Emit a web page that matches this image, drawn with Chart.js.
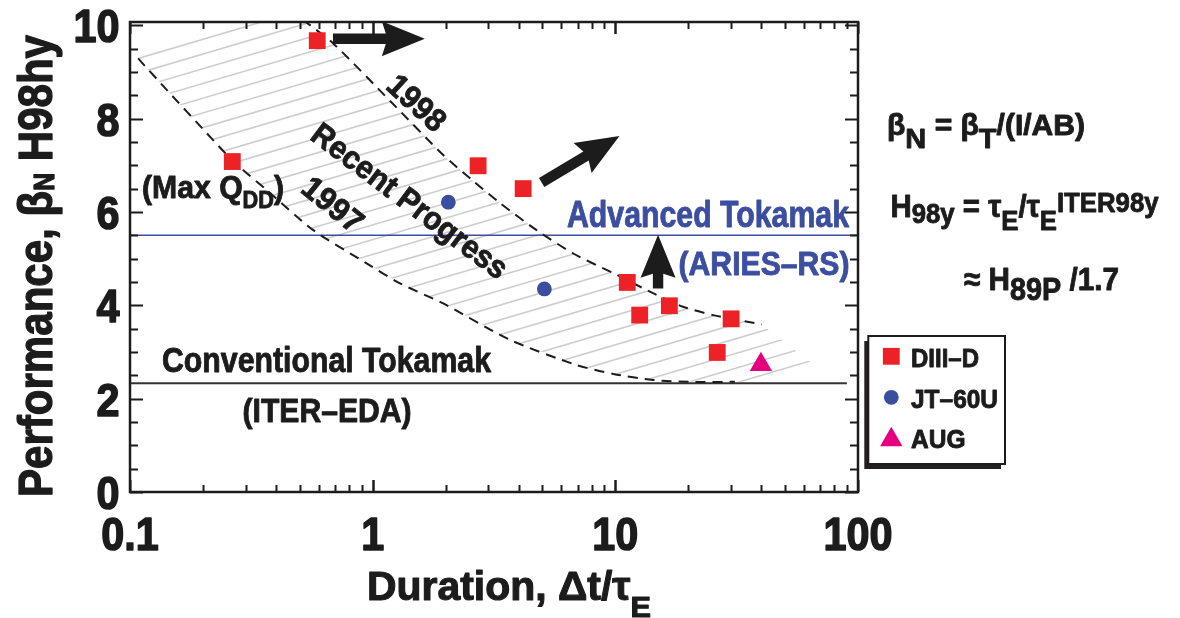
<!DOCTYPE html>
<html>
<head>
<meta charset="utf-8">
<title>Performance vs duration</title>
<script src="https://cdn.jsdelivr.net/npm/chart.js@4.4.1/dist/chart.umd.min.js"></script>
<style>
  html, body { margin: 0; padding: 0; background: #ffffff; }
  #wrap { position: relative; width: 1180px; height: 618px; }
</style>
</head>
<body>
<div id="wrap"><canvas id="chart" width="1180" height="618"></canvas></div>
<script>
// ---- measurements: duration (Δt/τE) and performance (βN H98y) ----
const diiidDuration = [0.591, 0.264, 2.72, 4.17, 11.2, 12.6, 16.7, 30.0, 26.3];
const diiidPerf     = [9.67, 7.08, 6.99, 6.50, 4.49, 3.79, 3.99, 3.71, 2.99];
const jt60uDuration = [2.05, 5.10];
const jt60uPerf     = [6.21, 4.35];
const augDuration   = [39.8];
const augPerf       = [2.73];

// ---- performance frontiers ----
const front1998Duration = [0.515, 0.688, 1.2, 1.954, 2.56, 3.35, 4.74, 6.71, 9.8, 14.3, 19.0, 25.3, 40.1];
const front1998Perf     = [10.12, 9.61, 8.34, 7.22, 6.69, 6.19, 5.61, 5.11, 4.69, 4.26, 3.97, 3.79, 3.59];
const front1997Duration = [0.108, 0.142, 0.207, 0.267, 0.366, 0.569, 0.944, 1.296, 1.954, 3.68, 6.93, 9.8, 14.3, 20.9, 31.1];
const front1997Perf     = [9.29, 8.61, 7.69, 7.08, 6.47, 5.61, 4.90, 4.47, 4.04, 3.26, 2.72, 2.53, 2.40, 2.36, 2.36];

// corners closing the "recent progress" band
const bandTopDuration = [0.105, 0.30];
const bandTopPerf     = [9.45, 10.2];
const bandEndDuration = [67.3, 36.2];
const bandEndPerf     = [2.69, 2.36];

// ---- reference operating levels ----
const advancedLevel = 5.5;      // Advanced Tokamak (ARIES-RS)
const conventionalLevel = 2.33; // Conventional Tokamak (ITER-EDA)
const levelDuration = [0.1, 100];
const conventionalDuration = [0.1, 90];

// ---- progress arrows (tail -> head) ----
const arrowFromDuration = [0.686, 4.97, 15.0];
const arrowFromPerf     = [9.71, 6.63, 4.36];
const arrowToDuration   = [1.64, 10.4, 15.0];
const arrowToPerf       = [9.71, 7.63, 5.51];

// ---- axis ticks ----
const xTickValues = [0.1, 1, 10, 100];
const xTickLabels = ['0.1', '1', '10', '100'];
const yTickValues = [0, 2, 4, 6, 8, 10];
const yTickLabels = ['0', '2', '4', '6', '8', '10'];

// ---- look ----
const FONT = '"Liberation Sans", Arial, Helvetica, sans-serif';
const INK = '#1c1c1c';
const RED = '#ec2227';
const BLUE = '#3a4e9f';
const MAGENTA = '#e4007f';
const LEVEL_BLUE = '#3b4ea0';

const pts = (xs, ys) => xs.map((v, i) => ({ x: v, y: ys[i] }));

// draw a run of text pieces (sub/superscripts) on one baseline
function drawRuns(ctx, runs, x, y, o) {
  o = o || {};
  ctx.save();
  let total = 0;
  const w = [];
  for (const r of runs) {
    ctx.font = 'bold ' + r.size + 'px ' + FONT;
    const m = ctx.measureText(r.t).width;
    w.push(m);
    total += m;
  }
  const sx = o.width ? o.width / total : (o.sx || 1);
  ctx.translate(x, y);
  if (o.angle) ctx.rotate(o.angle);
  ctx.scale(sx, 1);
  let cx = o.align === 'center' ? -total / 2 : (o.align === 'right' ? -total : 0);
  const dy0 = o.vcenter ? runs[0].size * 0.36 : 0;
  const col = o.color || INK;
  ctx.fillStyle = col;
  ctx.strokeStyle = col;
  ctx.lineJoin = 'round';
  ctx.lineWidth = o.heavy === undefined ? 0.9 : o.heavy;
  ctx.textAlign = 'left';
  ctx.textBaseline = 'alphabetic';
  runs.forEach((r, i) => {
    ctx.font = 'bold ' + r.size + 'px ' + FONT;
    ctx.fillText(r.t, cx, dy0 + (r.dy || 0));
    if (ctx.lineWidth > 0) ctx.strokeText(r.t, cx, dy0 + (r.dy || 0));
    cx += w[i];
  });
  ctx.restore();
}

function drawArrow(ctx, x0, y0, x1, y1) {
  const ang = Math.atan2(y1 - y0, x1 - x0);
  const len = Math.hypot(x1 - x0, y1 - y0);
  const hl = 43, hw = 17.5, sw = 5.2;
  ctx.save();
  ctx.translate(x0, y0);
  ctx.rotate(ang);
  ctx.fillStyle = INK;
  ctx.beginPath();
  ctx.moveTo(0, -sw);
  ctx.lineTo(len - hl + 4, -sw);
  ctx.lineTo(len - hl, -hw);
  ctx.lineTo(len, 0);
  ctx.lineTo(len - hl, hw);
  ctx.lineTo(len - hl + 4, sw);
  ctx.lineTo(0, sw);
  ctx.closePath();
  ctx.fill();
  ctx.restore();
}

// diagonal hatching of the band between the two frontiers
const hatchPlugin = {
  id: 'hatchBand',
  beforeDatasetsDraw(chart) {
    const { ctx, chartArea: a, scales: { x, y } } = chart;
    const poly = []
      .concat(pts(bandTopDuration, bandTopPerf))
      .concat(pts(front1998Duration, front1998Perf))
      .concat(pts(bandEndDuration, bandEndPerf))
      .concat(pts(front1997Duration, front1997Perf).reverse());
    ctx.save();
    ctx.beginPath();
    ctx.rect(a.left, a.top, a.right - a.left, a.bottom - a.top);
    ctx.clip();
    ctx.beginPath();
    poly.forEach((p, i) => {
      const px = x.getPixelForValue(p.x), py = y.getPixelForValue(p.y);
      if (i) ctx.lineTo(px, py); else ctx.moveTo(px, py);
    });
    ctx.closePath();
    ctx.clip();
    const slope = 0.295, step = 14.73;
    const c0 = y.getPixelForValue(front1997Perf[0]) + slope * x.getPixelForValue(front1997Duration[0]);
    ctx.strokeStyle = '#cdcdcd';
    ctx.lineWidth = 1.6;
    for (let k = -60; k <= 80; k++) {
      const c = c0 + k * step;
      ctx.beginPath();
      ctx.moveTo(0, c);
      ctx.lineTo(chart.width, c - slope * chart.width);
      ctx.stroke();
    }
    ctx.restore();
  }
};

// frame, inward ticks, labels, annotations and key
const decorPlugin = {
  id: 'decor',
  afterDraw(chart) {
    const { ctx, chartArea: a, scales: { x, y } } = chart;

    // arrows
    for (let i = 0; i < arrowFromDuration.length; i++) {
      drawArrow(ctx,
        x.getPixelForValue(arrowFromDuration[i]), y.getPixelForValue(arrowFromPerf[i]),
        x.getPixelForValue(arrowToDuration[i]), y.getPixelForValue(arrowToPerf[i]));
    }

    // frame
    ctx.save();
    ctx.strokeStyle = INK;
    ctx.lineWidth = 2.5;
    ctx.strokeRect(a.left, a.top, a.right - a.left, a.bottom - a.top);

    // y ticks every 0.5, labelled every 2
    ctx.lineWidth = 2;
    for (let v = 0; v <= 10.001; v += 0.5) {
      const py = Math.round(y.getPixelForValue(v)) + 0.5;
      const major = Math.abs(v / 2 - Math.round(v / 2)) < 1e-6;
      const L = major ? 13 : 8;
      ctx.beginPath();
      ctx.moveTo(a.left, py); ctx.lineTo(a.left + L, py);
      ctx.moveTo(a.right, py); ctx.lineTo(a.right - L, py);
      ctx.stroke();
    }
    // x ticks: decades and 2..9
    for (let d = 0.1; d < 100; d *= 10) {
      for (let k = 1; k <= 10; k++) {
        const v = d * k;
        const px = Math.round(x.getPixelForValue(v)) + 0.5;
        const L = (k === 1 || k === 10) ? 12 : 7;
        ctx.beginPath();
        ctx.moveTo(px, a.bottom); ctx.lineTo(px, a.bottom - L);
        ctx.moveTo(px, a.top); ctx.lineTo(px, a.top + L);
        ctx.stroke();
      }
    }
    ctx.restore();

    // tick labels
    yTickValues.forEach((v, i) => {
      drawRuns(ctx, [{ t: yTickLabels[i], size: 47 }], a.left - 10.5, y.getPixelForValue(v),
        { align: 'right', sx: 0.88, vcenter: true, heavy: 1.6 });
    });
    xTickValues.forEach((v, i) => {
      drawRuns(ctx, [{ t: xTickLabels[i], size: 47 }], x.getPixelForValue(v), a.bottom + 57.5,
        { align: 'center', sx: 0.88, heavy: 1.6 });
    });

    // axis titles
    ctx.save();
    ctx.translate(52, 497);
    ctx.rotate(-Math.PI / 2);
    drawRuns(ctx, [
      { t: 'Performance, β', size: 49 },
      { t: 'N', size: 29, dy: 1.5 },
      { t: ' H98hy', size: 49 }
    ], 0, 0, { width: 462, heavy: 1.3 });
    ctx.restore();
    drawRuns(ctx, [
      { t: 'Duration, Δt/τ', size: 40 },
      { t: 'E', size: 30, dy: 17 }
    ], 367, 600, { width: 284, heavy: 1.1 });

    // level labels
    drawRuns(ctx, [{ t: 'Advanced Tokamak', size: 37 }], 567, 226.7, { width: 282, color: LEVEL_BLUE });
    drawRuns(ctx, [{ t: '(ARIES–RS)', size: 34 }], 678.5, 274.5, { width: 171, color: LEVEL_BLUE });
    drawRuns(ctx, [{ t: 'Conventional Tokamak', size: 35 }], 162, 371.7, { width: 329 });
    drawRuns(ctx, [{ t: '(ITER–EDA)', size: 33 }], 242.5, 421.7, { width: 169 });

    // band annotations
    drawRuns(ctx, [
      { t: '(Max Q', size: 32 },
      { t: 'DD', size: 23, dy: 10 },
      { t: ')', size: 32 }
    ], 142, 198, { width: 142 });
    drawRuns(ctx, [{ t: '1998', size: 32 }], 417.3, 102.3, { align: 'center', angle: 0.74, sx: 0.95, vcenter: true });
    drawRuns(ctx, [{ t: '1997', size: 32 }], 333.3, 204, { align: 'center', angle: 0.68, sx: 0.97, vcenter: true });
    drawRuns(ctx, [{ t: 'Recent Progress', size: 32 }], 410.3, 200.3, { align: 'center', angle: 0.643, sx: 0.93, vcenter: true });

    // definitions
    drawRuns(ctx, [
      { t: 'β', size: 29 }, { t: 'N', size: 28, dy: 13 },
      { t: ' = β', size: 29 }, { t: 'T', size: 28, dy: 13 },
      { t: '/(I/AB)', size: 29 }
    ], 887, 135, { width: 198 });
    drawRuns(ctx, [
      { t: 'H', size: 32 }, { t: '98y', size: 28, dy: 6.7 },
      { t: ' = τ', size: 32 }, { t: 'E', size: 28, dy: 13.3 },
      { t: '/τ', size: 32 }, { t: 'E', size: 28, dy: 13.3 },
      { t: 'ITER98y', size: 28, dy: -5 }
    ], 890.5, 216.7, { width: 268 });
    drawRuns(ctx, [
      { t: '≈ H', size: 32 }, { t: '89P', size: 31, dy: 10 },
      { t: ' /1.7', size: 32 }
    ], 964, 290, { width: 155 });

    // key
    const bx = 868.3, by = 336, bw = 136.7, bh = 128;
    ctx.save();
    ctx.fillStyle = '#231f20';
    ctx.fillRect(bx - 4, by + 5, bw, bh);
    ctx.fillStyle = '#ffffff';
    ctx.fillRect(bx, by, bw, bh);
    ctx.strokeStyle = INK;
    ctx.lineWidth = 2;
    ctx.strokeRect(bx, by, bw, bh);
    const keyItems = [
      { ds: 0, label: 'DIII–D', y: 356.3, base: 366.7, w: 68 },
      { ds: 1, label: 'JT–60U', y: 397.3, base: 408.3, w: 87 },
      { ds: 2, label: 'AUG', y: 439.7, base: 448.3, w: 54.5 }
    ];
    keyItems.forEach(it => {
      const d = chart.data.datasets[it.ds];
      ctx.fillStyle = d.backgroundColor;
      Chart.helpers.drawPoint(ctx, { pointStyle: d.pointStyle, radius: d.pointRadius, rotation: 0, borderWidth: 0 }, 891.3, it.y);
      drawRuns(ctx, [{ t: it.label, size: 26 }], 911, it.base, { width: it.w });
    });
    ctx.restore();
  }
};

const ctx = document.getElementById('chart').getContext('2d');
new Chart(ctx, {
  type: 'scatter',
  data: {
    datasets: [
      {
        label: 'DIII–D', data: pts(diiidDuration, diiidPerf),
        pointStyle: 'rect', pointRadius: 11.9, backgroundColor: RED, borderWidth: 0, order: 1
      },
      {
        label: 'JT–60U', data: pts(jt60uDuration, jt60uPerf),
        pointStyle: 'circle', pointRadius: 7.4, backgroundColor: BLUE, borderWidth: 0, order: 1
      },
      {
        label: 'AUG', data: pts(augDuration, augPerf),
        pointStyle: 'triangle', pointRadius: 12.9, backgroundColor: MAGENTA, borderWidth: 0, order: 1
      },
      {
        label: '1998', type: 'line', data: pts(front1998Duration, front1998Perf),
        borderColor: INK, borderWidth: 2, borderDash: [10, 7], pointRadius: 0, fill: false, tension: 0.25, order: 3
      },
      {
        label: '1997', type: 'line', data: pts(front1997Duration, front1997Perf),
        borderColor: INK, borderWidth: 2, borderDash: [10, 7], pointRadius: 0, fill: false, tension: 0.25, order: 3
      },
      {
        label: 'Advanced Tokamak', type: 'line', data: pts(levelDuration, [advancedLevel, advancedLevel]),
        borderColor: LEVEL_BLUE, borderWidth: 1.4, pointRadius: 0, fill: false, order: 4
      },
      {
        label: 'Conventional Tokamak', type: 'line', data: pts(conventionalDuration, [conventionalLevel, conventionalLevel]),
        borderColor: '#333333', borderWidth: 2, pointRadius: 0, fill: false, order: 4
      }
    ]
  },
  options: {
    responsive: false,
    animation: false,
    devicePixelRatio: 1,
    layout: { padding: { left: 130, right: 322, top: 22, bottom: 126 } },
    scales: {
      x: { type: 'logarithmic', min: 0.1, max: 100, display: false },
      y: { type: 'linear', min: 0, max: 10.07, display: false }
    },
    plugins: { legend: { display: false }, tooltip: { enabled: false } },
    events: []
  },
  plugins: [hatchPlugin, decorPlugin]
});
</script>
</body>
</html>
